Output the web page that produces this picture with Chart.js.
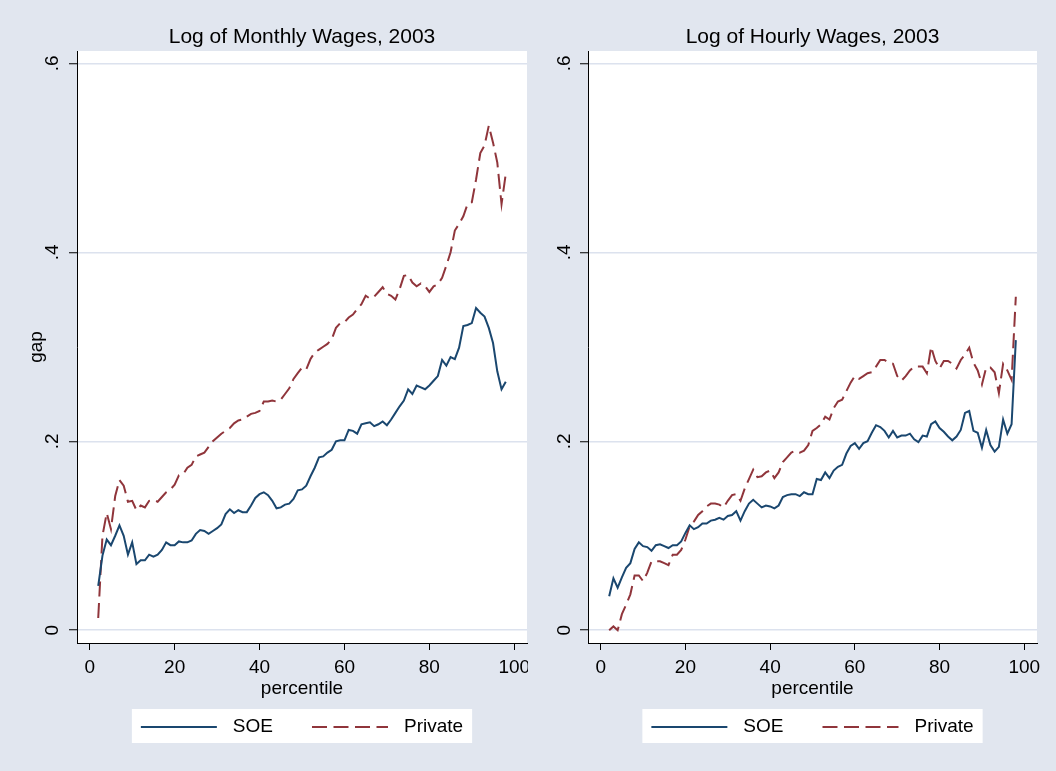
<!DOCTYPE html>
<html>
<head>
<meta charset="utf-8">
<title>Log of wages gap, 2003</title>
<script src="https://cdn.jsdelivr.net/npm/chart.js@4.4.1/dist/chart.umd.min.js"></script>
<style>
  html, body { margin: 0; padding: 0; background: #e1e6ef; }
  #wrap { position: relative; width: 1056px; height: 771px; }
  canvas { position: absolute; top: 0; }
</style>
</head>
<body>
<div id="wrap">
  <canvas id="chartMensual" width="528" height="771" style="left:0"></canvas>
  <canvas id="chartHora" width="528" height="771" style="left:528px"></canvas>
</div>
<script>
// ── Datos ────────────────────────────────────────────────────────────────
var percentiles = [
  2, 3, 4, 5, 6, 7, 8, 9, 10, 11,
  12, 13, 14, 15, 16, 17, 18, 19, 20, 21,
  22, 23, 24, 25, 26, 27, 28, 29, 30, 31,
  32, 33, 34, 35, 36, 37, 38, 39, 40, 41,
  42, 43, 44, 45, 46, 47, 48, 49, 50, 51,
  52, 53, 54, 55, 56, 57, 58, 59, 60, 61,
  62, 63, 64, 65, 66, 67, 68, 69, 70, 71,
  72, 73, 74, 75, 76, 77, 78, 79, 80, 81,
  82, 83, 84, 85, 86, 87, 88, 89, 90, 91,
  92, 93, 94, 95, 96, 97, 98
];

// Log of Monthly Wages, 2003
var soeMensual = [
  .047, .079, .096, .090, .100, .111, .100, .080, .093, .070,
  .074, .074, .080, .078, .080, .085, .093, .090, .090, .094,
  .093, .093, .095, .102, .106, .105, .102, .105, .108, .112,
  .123, .128, .124, .127, .125, .125, .132, .140, .144, .146,
  .143, .137, .129, .130, .133, .134, .139, .148, .149, .153,
  .163, .172, .183, .184, .188, .191, .200, .201, .201, .212,
  .211, .208, .218, .219, .220, .216, .218, .221, .217, .223,
  .230, .237, .243, .255, .250, .259, .257, .255, .259, .264,
  .269, .286, .280, .289, .287, .299, .322, .323, .325, .341,
  .336, .332, .320, .304, .274, .255, .263
];
var privMensual = [
  .013, .100, .124, .107, .142, .159, .153, .136, .137, .127,
  .132, .130, .137, .138, .136, .141, .146, .149, .154, .164,
  .165, .172, .175, .184, .186, .188, .194, .200, .204, .208,
  .211, .214, .219, .222, .223, .226, .229, .230, .232, .242,
  .242, .243, .242, .244, .250, .256, .266, .272, .278, .276,
  .287, .294, .297, .300, .303, .308, .320, .325, .326, .331,
  .334, .340, .345, .354, .351, .353, .358, .363, .356, .354,
  .350, .361, .375, .376, .368, .364, .367, .364, .358, .364,
  .366, .373, .386, .400, .423, .430, .438, .451, .453, .477,
  .505, .513, .534, .516, .495, .451, .483
];

// Log of Hourly Wages, 2003
var soeHora = [
  .036, .055, .045, .056, .066, .071, .086, .093, .089, .088,
  .084, .090, .091, .089, .087, .090, .090, .094, .103, .111,
  .107, .109, .113, .113, .116, .117, .119, .117, .121, .122,
  .126, .116, .126, .134, .138, .134, .130, .132, .131, .129,
  .132, .141, .143, .144, .144, .142, .146, .144, .144, .160,
  .159, .167, .161, .169, .173, .175, .187, .195, .198, .192,
  .198, .200, .209, .217, .215, .211, .204, .211, .204, .206,
  .206, .208, .202, .199, .206, .205, .218, .221, .214, .210,
  .205, .201, .205, .212, .230, .232, .211, .209, .193, .212,
  .196, .189, .194, .223, .208, .218, .307
];
var privHora = [
  .000, .004, .000, .017, .027, .038, .058, .058, .052, .061,
  .073, .073, .073, .071, .069, .080, .080, .085, .096, .110,
  .115, .122, .126, .131, .134, .134, .133, .130, .137, .143,
  .144, .137, .150, .160, .170, .162, .163, .167, .169, .161,
  .167, .178, .183, .188, .190, .188, .190, .196, .211, .214,
  .218, .226, .223, .235, .242, .244, .253, .262, .269, .266,
  .269, .272, .273, .279, .286, .286, .283, .282, .269, .264,
  .269, .275, .279, .279, .279, .272, .300, .285, .277, .285,
  .285, .282, .277, .286, .292, .299, .283, .275, .260, .278,
  .278, .273, .251, .282, .275, .265, .353
];

var xTicks = [0, 20, 40, 60, 80, 100];
var xTickLabels = ['0', '20', '40', '60', '80', '100'];
var yTicks = [0, .2, .4, .6];
var yTickLabels = ['0', '.2', '.4', '.6'];

// ── Estilo ───────────────────────────────────────────────────────────────
Chart.defaults.font.family = '"Liberation Sans", Arial, Helvetica, sans-serif';
Chart.defaults.color = '#000';

var COLOR_SOE = '#1a476f';
var COLOR_PRIV = '#90353b';

function puntos(xs, ys) {
  return xs.map(function (x, i) { return { x: x, y: ys[i] }; });
}

// fondo blanco del área de gráfico
var plotBg = {
  id: 'plotBg',
  beforeDraw: function (chart) {
    var a = chart.chartArea, ctx = chart.ctx;
    ctx.save();
    ctx.fillStyle = '#fff';
    ctx.fillRect(a.left, a.top, a.right - a.left, a.bottom - a.top);
    ctx.restore();
  }
};

// leyenda tipo Stata: caja blanca con muestras de línea
var stataLegend = {
  id: 'stataLegend',
  afterDraw: function (chart, args, opts) {
    var ctx = chart.ctx, a = chart.chartArea;
    var cx = (a.left + a.right) / 2;
    var cy = opts.centerY;
    ctx.save();
    ctx.font = '19px "Liberation Sans", Arial, sans-serif';
    var items = chart.data.datasets.map(function (ds) {
      return { ds: ds, w: ctx.measureText(ds.label).width };
    });
    var lineLen = 76, gapText = 16, gapItem = 39, padX = 9;
    var total = gapItem * (items.length - 1);
    items.forEach(function (it) { total += lineLen + gapText + it.w; });
    var x = cx - total / 2;
    ctx.fillStyle = '#fff';
    ctx.fillRect(x - padX, opts.top, total + 2 * padX, opts.height);
    items.forEach(function (it) {
      ctx.strokeStyle = it.ds.borderColor;
      ctx.lineWidth = it.ds.borderWidth;
      ctx.setLineDash(it.ds.borderDash || []);
      ctx.beginPath();
      ctx.moveTo(x, cy);
      ctx.lineTo(x + lineLen, cy);
      ctx.stroke();
      ctx.setLineDash([]);
      x += lineLen + gapText;
      ctx.fillStyle = '#000';
      ctx.textBaseline = 'middle';
      ctx.textAlign = 'left';
      ctx.fillText(it.ds.label, x, cy);
      x += it.w + gapItem;
    });
    ctx.restore();
  }
};

function buildPanel(canvasId, titulo, soe, priv, cfg) {
  return new Chart(document.getElementById(canvasId), {
    type: 'line',
    data: {
      datasets: [
        {
          label: 'SOE',
          data: puntos(percentiles, soe),
          borderColor: COLOR_SOE,
          borderWidth: 2,
          borderDash: [],
          pointRadius: 0,
          tension: 0,
          fill: false
        },
        {
          label: 'Private',
          data: puntos(percentiles, priv),
          borderColor: COLOR_PRIV,
          borderWidth: 2,
          borderDash: [15, 6.5],
          pointRadius: 0,
          tension: 0,
          fill: false
        }
      ]
    },
    plugins: [plotBg, stataLegend],
    options: {
      responsive: false,
      animation: false,
      events: [],
      layout: { padding: { left: 0, right: cfg.padRight, top: 0, bottom: 69 } },
      plugins: {
        legend: { display: false },
        tooltip: { enabled: false },
        title: {
          display: true,
          text: titulo,
          fullSize: false,
          color: '#000',
          font: { size: 21, weight: 'normal' },
          padding: { top: 24.6, bottom: 1.2 }
        },
        stataLegend: { centerY: 727, top: 709, height: 34 }
      },
      scales: {
        x: {
          type: 'linear',
          min: -3,
          max: 103,
          afterBuildTicks: function (s) { s.ticks = xTicks.map(function (v) { return { value: v }; }); },
          afterFit: function (s) { s.height = 59; s.paddingLeft = 0; s.paddingRight = 0; },
          grid: { display: true, drawOnChartArea: false, drawTicks: true, tickLength: 7, tickColor: '#000', tickWidth: 1 },
          border: { display: true, color: '#000', width: 1 },
          ticks: {
            color: '#000',
            font: { size: 19 },
            padding: 6,
            maxRotation: 0,
            autoSkip: false,
            callback: function (v) { var i = xTicks.indexOf(v); return i < 0 ? '' : xTickLabels[i]; }
          },
          title: { display: true, text: 'percentile', color: '#000', font: { size: 19 }, padding: { top: 0, bottom: 2 } }
        },
        y: {
          type: 'linear',
          min: -0.0135,
          max: 0.613,
          afterBuildTicks: function (s) { s.ticks = yTicks.map(function (v) { return { value: v }; }); },
          afterFit: function (s) { s.width = cfg.yWidth; s.paddingTop = 0; s.paddingBottom = 0; },
          grid: { color: '#dce2ee', lineWidth: 1.5, drawTicks: true, tickLength: 8, tickColor: '#000', tickWidth: 1 },
          border: { display: true, color: '#000', width: 1 },
          ticks: {
            color: '#000',
            font: { size: 19 },
            minRotation: 90,
            maxRotation: 90,
            crossAlign: 'center',
            padding: cfg.yPad,
            autoSkip: false,
            callback: function (v) { var i = yTicks.indexOf(v); return i < 0 ? '' : yTickLabels[i]; }
          },
          title: { display: !!cfg.yTitle, text: cfg.yTitle || '', color: '#000', font: { size: 19 }, padding: { top: 25.6, bottom: 0 } }
        }
      }
    }
  });
}

buildPanel('chartMensual', 'Log of Monthly Wages, 2003', soeMensual, privMensual,
  { padRight: 1, yWidth: 77, yPad: 8, yTitle: 'gap' });
buildPanel('chartHora', 'Log of Hourly Wages, 2003', soeHora, privHora,
  { padRight: 19, yWidth: 60, yPad: 7, yTitle: '' });
</script>
</body>
</html>
